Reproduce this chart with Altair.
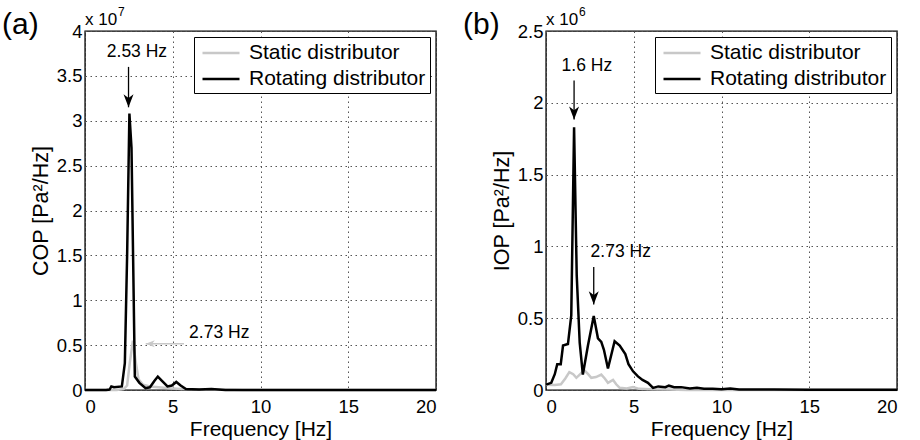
import altair as alt
import pandas as pd

FONT = "Liberation Sans"
SERIES = ["Static distributor", "Rotating distributor"]
COLORS = ["#c8c8c8", "#000000"]

# ---------------- Panel (a): COP, values in units of 1e7 Pa^2/Hz ----------------
a_rot_f = [0, 1.2, 1.4, 1.5, 1.65, 2.1, 2.27, 2.4, 2.53, 2.65, 2.84, 3.1, 3.45, 3.7, 3.95,
           4.15, 4.4, 4.7, 4.95, 5.2, 5.45, 5.75, 6.5, 7.2, 8.0, 20]
a_rot_v = [0, 0, 0.005, 0.04, 0.03, 0.04, 0.3, 1.5, 3.08, 2.7, 0.15, 0.08, 0.02, 0.03, 0.1,
           0.15, 0.1, 0.04, 0.05, 0.09, 0.05, 0.01, 0.005, 0.01, 0, 0]
a_sta_f = [0, 1.8, 2.2, 2.4, 2.55, 2.73, 2.9, 3.05, 3.3, 3.7, 4.2, 4.8, 5.5, 7.0, 8.5, 9, 20]
a_sta_v = [0, 0, 0.01, 0.05, 0.3, 0.55, 0.3, 0.12, 0.06, 0.04, 0.03, 0.02, 0.01, 0.005, 0.003, 0, 0]

# ---------------- Panel (b): IOP, values in units of 1e6 Pa^2/Hz ----------------
b_rot_f = [0, 0.3, 0.5, 0.64, 0.84, 0.97, 1.25, 1.44, 1.6, 1.75, 1.92, 2.1, 2.39, 2.72, 2.96,
           3.15, 3.3, 3.53, 3.91, 4.2, 4.52, 4.7, 4.96, 5.24, 5.5, 5.81, 6.1, 6.4, 6.8, 7.0,
           7.3, 7.7, 8.2, 8.6, 9.0, 9.5, 10.0, 10.5, 11, 13, 15, 20]
b_rot_v = [0.037, 0.05, 0.11, 0.18, 0.18, 0.31, 0.32, 0.52, 1.83, 0.8, 0.33, 0.107, 0.31, 0.515, 0.36,
           0.335, 0.28, 0.15, 0.34, 0.31, 0.25, 0.18, 0.13, 0.095, 0.07, 0.05, 0.015, 0.025, 0.02, 0.03,
           0.02, 0.02, 0.01, 0.015, 0.008, 0.008, 0.005, 0.01, 0.004, 0.003, 0.002, 0.001]
b_sta_f = [0, 0.5, 0.85, 1.1, 1.33, 1.55, 1.73, 1.95, 2.16, 2.4, 2.58, 2.85, 3.15, 3.35, 3.53,
           3.82, 4.0, 4.2, 4.6, 4.96, 5.3, 6, 7, 8, 20]
b_sta_v = [0.037, 0.035, 0.04, 0.08, 0.125, 0.11, 0.085, 0.11, 0.14, 0.11, 0.085, 0.09, 0.107, 0.08, 0.05,
           0.07, 0.04, 0.015, 0.01, 0.02, 0.008, 0.005, 0.003, 0, 0]

# ---------------- Annotations ----------------
a_txt = ["2.53 Hz", "2.73 Hz"]
a_txt_f = [2.96, 5.93]
a_txt_v = [3.77, 0.64]
a_txt_align = ["center", "left"]
a_varrow_f = [2.48]
a_varrow_from = [3.6]
a_varrow_to = [3.15]
a_harrow_from = [5.64]
a_harrow_to = [3.46]
a_harrow_v = [0.516]

b_txt = ["1.6 Hz", "2.73 Hz"]
b_txt_f = [2.33, 4.26]
b_txt_v = [2.256, 0.964]
b_txt_align = ["center", "center"]
b_varrow_f = [1.6, 2.72]
b_varrow_from = [2.156, 0.857]
b_varrow_to = [1.883, 0.596]

DOWN_HEAD = "M0,0 L-0.4,-1.05 L0,-0.75 L0.4,-1.05 Z"
LEFT_HEAD = "M0,0 L1.05,-0.4 L0.75,0 L1.05,0.4 Z"
LEGEND_LINE = "M-0.714,0 L2.81,0"

W, H = 351, 359
one = pd.DataFrame({"d": [0]})


def panel(rot_f, rot_v, sta_f, sta_v, ymax, ytitle, plabel, expo,
          txt, txt_f, txt_v, txt_align, va_f, va_from, va_to,
          ha_from=None, ha_to=None, ha_v=None):
    xs = alt.Scale(domain=[0, 20], nice=False)
    ys = alt.Scale(domain=[0, ymax], nice=False)
    xax = alt.Axis(values=[0, 5, 10, 15, 20], title="Frequency [Hz]", labelFontSize=18.5,
                   titleFontSize=21, labelPadding=7, titleBaseline="alphabetic", titleY=45)
    yvals = [i * 0.5 for i in range(int(ymax / 0.5) + 1)]
    yax = alt.Axis(values=yvals, format="~g", title=ytitle, labelFontSize=18.5, labelPadding=3,
                   titleFontSize=21.5, titleAngle=270, titleBaseline="alphabetic", titleX=-38)
    X = alt.X("f:Q", scale=xs, axis=xax)
    Y = alt.Y("v:Q", scale=ys, axis=yax)
    color = alt.Color("series:N", scale=alt.Scale(domain=SERIES, range=COLORS),
                      legend=alt.Legend(orient="top-right", offset=6, title=None,
                                        strokeColor="black", fillColor="white", padding=4,
                                        labelFont=FONT, labelFontSize=21, labelColor="black",
                                        symbolType=LEGEND_LINE, symbolSize=441,
                                        symbolStrokeWidth=2.5, labelOffset=27, rowPadding=4,
                                        labelLimit=400))
    sta = pd.DataFrame({"f": sta_f, "v": sta_v, "series": SERIES[0]})
    rot = pd.DataFrame({"f": rot_f, "v": rot_v, "series": SERIES[1]})
    layers = [
        alt.Chart(sta).mark_line(strokeWidth=2.5).encode(x=X, y=Y, color=color),
        alt.Chart(rot).mark_line(strokeWidth=2.5).encode(x=X, y=Y, color=color),
    ]
    t = pd.DataFrame({"t": txt, "f": txt_f, "v": txt_v, "al": txt_align})
    for al in ["center", "left"]:
        sub = t[t["al"] == al]
        if len(sub):
            layers.append(alt.Chart(sub).mark_text(font=FONT, fontSize=17.5, align=al,
                                                   baseline="middle", color="black")
                          .encode(x=alt.X("f:Q", scale=xs), y=alt.Y("v:Q", scale=ys), text="t:N"))
    va = pd.DataFrame({"f": va_f, "v": va_from, "v2": va_to})
    layers.append(alt.Chart(va).mark_rule(color="black", strokeWidth=1.3)
                  .encode(x=alt.X("f:Q", scale=xs), y=alt.Y("v:Q", scale=ys), y2="v2:Q"))
    layers.append(alt.Chart(va).mark_point(shape=DOWN_HEAD, size=625, filled=True,
                                           color="black", opacity=1)
                  .encode(x=alt.X("f:Q", scale=xs), y=alt.Y("v2:Q", scale=ys)))
    if ha_from is not None:
        ha = pd.DataFrame({"f": ha_from, "f2": ha_to, "v": ha_v})
        layers.append(alt.Chart(ha).mark_rule(color="#c8c8c8", strokeWidth=1.5)
                      .encode(x=alt.X("f:Q", scale=xs), x2="f2:Q", y=alt.Y("v:Q", scale=ys)))
        layers.append(alt.Chart(ha).mark_point(shape=LEFT_HEAD, size=300, filled=True,
                                               color="#c8c8c8", opacity=1)
                      .encode(x=alt.X("f2:Q", scale=xs), y=alt.Y("v:Q", scale=ys)))
    # exponent label and panel label
    layers.append(alt.Chart(one).mark_text(text="x 10", font=FONT, fontSize=17, align="left",
                                           baseline="alphabetic", color="black")
                  .encode(x=alt.value(0), y=alt.value(-6)))
    layers.append(alt.Chart(one).mark_text(text=expo, font=FONT, fontSize=12, align="left",
                                           baseline="alphabetic", color="black")
                  .encode(x=alt.value(33), y=alt.value(-15)))
    layers.append(alt.Chart(one).mark_text(text=plabel, font=FONT, fontSize=30, align="left",
                                           baseline="alphabetic", color="black")
                  .encode(x=alt.value(-83), y=alt.value(3)))
    return alt.layer(*layers).properties(width=W, height=H)


pa = panel(a_rot_f, a_rot_v, a_sta_f, a_sta_v, 4, "COP [Pa²/Hz]", "(a)", "7",
           a_txt, a_txt_f, a_txt_v, a_txt_align, a_varrow_f, a_varrow_from, a_varrow_to,
           a_harrow_from, a_harrow_to, a_harrow_v)
pb = panel(b_rot_f, b_rot_v, b_sta_f, b_sta_v, 2.5, "IOP [Pa²/Hz]", "(b)", "6",
           b_txt, b_txt_f, b_txt_v, b_txt_align, b_varrow_f, b_varrow_from, b_varrow_to)

chart = (alt.hconcat(pa, pb, spacing=110, bounds="flush")
         .resolve_scale(color="independent")
         .properties(padding={"left": 1, "top": 5, "right": 5, "bottom": 5},
                     background="white")
         .configure_view(stroke="black", strokeWidth=1.4)
         .configure_axis(grid=True, gridDash=[1.5, 3.5], gridColor="#555555", gridWidth=1,
                         ticks=False, domain=False, labelFont=FONT, titleFont=FONT,
                         labelColor="black", titleColor="black", titleFontWeight="normal"))

chart.save("out.html", embed_options={"renderer": "svg", "actions": False})
